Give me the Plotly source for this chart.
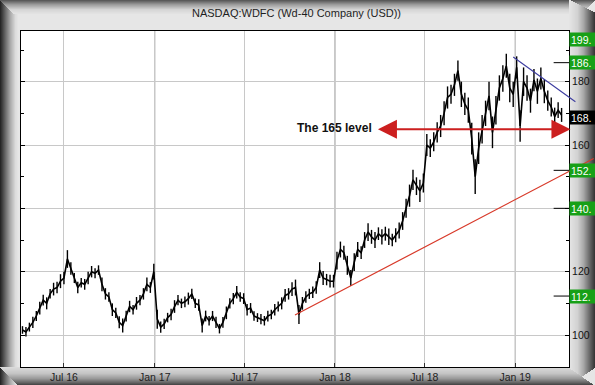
import plotly.graph_objects as go
import pandas as pd

# ---------------- data ----------------
week_dates = pd.date_range('2016-04-08', periods=157, freq='7D')
close = [
    101.6, 101.0, 102.5, 104.0, 106.0, 108.5, 111.0, 110.0, 113.0, 114.5,
    115.0, 117.0, 118.0, 124.0, 121.0, 118.0, 115.0, 116.5, 116.0, 118.0,
    120.0, 119.5, 120.5, 116.0, 113.0, 112.0, 108.0, 107.0, 104.0, 103.0,
    106.0, 109.0, 108.0, 110.0, 111.0, 113.0, 116.0, 115.0, 120.0, 105.0,
    102.5, 103.5, 105.5, 106.5, 109.0, 111.0, 110.0, 110.5, 111.5, 113.0,
    110.0, 109.5, 103.0, 106.0, 104.5, 106.0, 104.0, 102.0, 104.0, 107.0,
    110.0, 111.5, 113.5, 112.0, 111.5, 108.0, 108.5, 106.0, 105.5, 105.0,
    104.5, 106.0, 106.5, 108.0, 109.0, 110.0, 112.5, 113.0, 114.5, 115.0,
    106.5, 110.0, 112.0, 113.0, 113.5, 115.0, 120.5, 118.0, 117.5, 117.0,
    117.0, 123.5, 127.0, 126.0, 122.0, 118.0, 123.0, 127.0, 126.0, 130.0,
    132.5, 131.0, 130.0, 132.0, 131.0, 132.0, 131.0, 130.0, 131.5, 133.0,
    136.0, 140.0, 144.0, 149.0, 147.0, 145.5, 148.0, 160.0, 159.0, 161.0,
    164.0, 166.0, 170.0, 175.0, 176.0, 179.0, 183.5, 176.0, 173.0, 171.0,
    162.0, 150.0, 159.0, 165.0, 170.0, 175.5, 164.0, 171.0, 178.0, 181.0,
    185.0, 178.0, 176.0, 184.5, 166.0, 180.0, 178.0, 174.0, 180.5, 177.0,
    181.0, 177.0, 174.0, 172.0, 169.0, 171.0, 169.5,
]
# weekly trading range (half-width of the daily noise band)
week_spread = [
    1.2, 1.5, 1.4, 1.8, 1.6, 2.0, 1.7, 1.9, 1.5, 2.0,
    1.8, 2.2, 2.0, 2.8, 2.0, 1.6, 1.8, 1.5, 1.7, 2.0,
    1.8, 1.6, 1.5, 2.2, 1.8, 1.5, 2.0, 1.6, 1.9, 2.2,
    1.7, 1.8, 1.5, 2.0, 1.6, 1.8, 2.2, 1.7, 2.5, 3.0,
    1.8, 1.6, 1.5, 1.8, 2.0, 1.6, 1.5, 1.7, 1.9, 1.6,
    1.5, 1.8, 2.2, 1.7, 1.5, 1.6, 1.8, 1.5, 1.7, 2.0,
    1.6, 1.8, 2.0, 1.5, 1.7, 1.8, 1.6, 1.5, 1.4, 1.6,
    1.5, 1.7, 1.5, 1.8, 1.6, 1.9, 2.0, 1.8, 2.2, 2.5,
    3.0, 2.0, 1.8, 1.6, 1.8, 2.0, 2.5, 2.2, 1.8, 2.0,
    2.0, 2.8, 2.5, 2.2, 3.0, 2.5, 2.8, 2.4, 2.0, 2.5,
    2.8, 2.2, 2.5, 2.0, 2.4, 2.2, 2.6, 2.0, 2.2, 2.5,
    2.8, 3.0, 3.5, 3.2, 2.8, 3.5, 3.0, 3.5, 2.8, 3.0,
    3.2, 3.5, 3.8, 3.5, 3.0, 3.5, 3.2, 4.0, 3.5, 4.0,
    5.0, 5.5, 5.0, 4.5, 4.0, 4.5, 5.0, 4.5, 4.0, 4.2,
    3.8, 4.5, 4.0, 3.5, 5.0, 4.5, 4.0, 3.8, 3.5, 4.0,
    3.5, 3.8, 3.2, 3.0, 2.8, 2.5, 2.2,
]

support_dates = ['2017-10-12', '2019-06-12']
support_vals = [106.3, 156.0]
resist_dates = ['2018-12-28', '2019-05-06']
resist_vals = [187.8, 173.3]
level_dates = ['2018-03-29', '2019-04-26']
level_val = 165
level_text = 'The 165 level'
level_text_date = '2017-12-31'

box_values = [199.0, 186.0, 168.7, 152.0, 140.0, 112.3]
box_labels = ['199.', '186.', '168.', '152.', '140.', '112.']
box_colors = ['#17a017', '#17a017', '#000000', '#17a017', '#17a017', '#17a017']

y_tick_vals = [100, 120, 140, 160, 180]
y_tick_text = ['100', '120', '', '160', '180']
jan_lines = ['2017-01-01', '2018-01-01', '2019-01-01']

title_text = 'NASDAQ:WDFC (Wd-40 Company (USD))'

# ---------------- layout geometry ----------------
W, H = 595, 385
L, R, T, B = 21, 26, 31, 18
Y_RANGE = [89.9, 196.0]
X_RANGE = ['2016-04-05', '2019-04-20']
FONT = 'Liberation Sans, Arial, sans-serif'


def pxx(px):
    return (px - L) / (W - L - R)


def pxy(py):
    return (H - B - py) / (H - T - B)


def hexc(c):
    return tuple(int(c[i:i + 2], 16) for i in (1, 3, 5))


def grad(stops, t):
    for (t0, c0), (t1, c1) in zip(stops[:-1], stops[1:]):
        if t0 <= t <= t1:
            f = 0 if t1 == t0 else (t - t0) / (t1 - t0)
            a, b = hexc(c0), hexc(c1)
            return 'rgb(%d,%d,%d)' % tuple(round(a[k] + (b[k] - a[k]) * f) for k in range(3))
    return stops[-1][1]


shapes = []
# bevel frame strips
left_stops = [(0, '#262626'), (5, '#6a6a6a'), (10, '#ababab'), (15, '#dcdcdc'), (18, '#e6e6e6')]
for i in range(18):
    shapes.append(dict(type='rect', xref='paper', yref='paper', x0=pxx(i), x1=pxx(i + 1),
                       y0=pxy(H), y1=pxy(0), line=dict(width=0),
                       fillcolor=grad(left_stops, i), layer='below'))
top_stops = [(0, '#5a5a5a'), (4, '#9a9a9a'), (9, '#d4d4d4'), (14, '#e6e6e6')]
for i in range(14):
    shapes.append(dict(type='rect', xref='paper', yref='paper', x0=pxx(min(i, 18)), x1=pxx(W - min(i, 14)),
                       y0=pxy(i + 1), y1=pxy(i), line=dict(width=0),
                       fillcolor=grad(top_stops, i), layer='below'))
right_stops = [(0, '#e4e4e4'), (8, '#d2d2d2'), (14, '#a8a8a8'), (20, '#6a6a6a'), (26, '#2e2e2e')]
for i in range(26):
    shapes.append(dict(type='rect', xref='paper', yref='paper', x0=pxx(W - R + i), x1=pxx(W - R + i + 1),
                       y0=pxy(H - (i * 18 // 26)), y1=pxy(i // 2), line=dict(width=0),
                       fillcolor=grad(right_stops, i), layer='below'))
bottom_stops = [(0, '#dadada'), (6, '#c4c4c4'), (11, '#9a9a9a'), (15, '#666666'), (18, '#3a3a3a')]
for i in range(18):
    shapes.append(dict(type='rect', xref='paper', yref='paper', x0=pxx(i), x1=pxx(W - R + i * 26 // 18),
                       y0=pxy(H - B + i + 1), y1=pxy(H - B + i), line=dict(width=0),
                       fillcolor=grad(bottom_stops, i), layer='below'))

# darker January gridlines
for d in jan_lines:
    shapes.append(dict(type='line', xref='x', yref='paper', x0=d, x1=d, y0=0, y1=1,
                       line=dict(color='#9a9a9a', width=1), layer='below'))

fig = go.Figure()
fig.add_trace(go.Scatter(x=week_dates, y=close, mode='lines',
                         line=dict(color='#000000', width=1.6), hoverinfo='skip',
                         error_y=dict(type='data', array=week_spread, symmetric=True,
                                      width=0, thickness=1.4, color='#000000')))

annotations = []
# title
annotations.append(dict(text=title_text, xref='paper', yref='paper', x=pxx(296), y=pxy(13),
                        xanchor='center', yanchor='middle', showarrow=False,
                        font=dict(family=FONT, size=11, color='#1e1e1e')))
# support trend line (red)
annotations.append(dict(x=support_dates[0], y=support_vals[0], ax=support_dates[1], ay=support_vals[1],
                        xref='x', yref='y', axref='x', ayref='y', text='', showarrow=True,
                        arrowhead=0, arrowwidth=1.2, arrowcolor='#d83a2a'))
# resistance trend line (blue)
annotations.append(dict(x=resist_dates[0], y=resist_vals[0], ax=resist_dates[1], ay=resist_vals[1],
                        xref='x', yref='y', axref='x', ayref='y', text='', showarrow=True,
                        arrowhead=0, arrowwidth=1.1, arrowcolor='#3c3ca0'))
# 165 level double arrow
annotations.append(dict(x=level_dates[0], y=level_val, ax=level_dates[1], ay=level_val,
                        xref='x', yref='y', axref='x', ayref='y', text='', showarrow=True,
                        arrowhead=2, arrowside='end+start', arrowsize=1.9, arrowwidth=2,
                        arrowcolor='#cc1f1f'))
annotations.append(dict(x=level_text_date, y=level_val + 0.3, xref='x', yref='y', text='<b>%s</b>' % level_text,
                        showarrow=False, xanchor='center', yanchor='middle',
                        font=dict(family=FONT, size=12, color='#111111')))
# right-side value boxes
for v, lab, col in zip(box_values, box_labels, box_colors):
    yv = min(v, Y_RANGE[1] - 2.8)
    annotations.append(dict(x=1, y=yv, xref='paper', yref='y', text=lab, showarrow=False,
                            xanchor='left', yanchor='middle', align='left', width=28, height=11,
                            borderpad=1, bgcolor=col,
                            font=dict(family=FONT, size=10.5, color='#ffffff')))
    if col != '#000000':
        shapes.append(dict(type='line', xref='paper', yref='y', x0=0.972, x1=1.0, y0=v, y1=v,
                           line=dict(color='#000000', width=1)))

fig.update_layout(
    width=W, height=H,
    margin=dict(l=L, r=R, t=T, b=B, pad=0, autoexpand=False),
    paper_bgcolor='#e6e6e6', plot_bgcolor='#ffffff',
    showlegend=False,
    shapes=shapes, annotations=annotations,
    xaxis=dict(range=X_RANGE, type='date', dtick='M6', tick0='2016-07-01', tickformat='%b %y',
               showgrid=True, gridcolor='#c8c8c8', gridwidth=1,
               showline=True, linecolor='#000000', linewidth=1, mirror=True,
               ticks='inside', ticklen=4, tickcolor='#333333',
               tickfont=dict(family=FONT, size=10.5, color='#222222'),
               zeroline=False, automargin=False),
    yaxis=dict(range=Y_RANGE, side='right', tickvals=y_tick_vals, ticktext=y_tick_text,
               showgrid=True, gridcolor='#c8c8c8', gridwidth=1,
               showline=True, linecolor='#000000', linewidth=1, mirror='ticks',
               ticks='inside', ticklen=4, tickcolor='#000000',
               minor=dict(dtick=10, tick0=100, ticks='inside', ticklen=3, tickcolor='#000000', showgrid=False),
               tickfont=dict(family=FONT, size=10.5, color='#111111'),
               zeroline=False, automargin=False),
)

fig.write_html('out.html', config={'displayModeBar': False, 'staticPlot': True},
               post_script="document.body.style.margin='0px';document.body.style.overflow='hidden';")
